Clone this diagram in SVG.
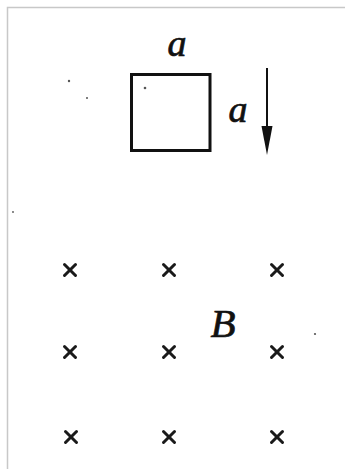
<svg xmlns="http://www.w3.org/2000/svg" width="345" height="469" viewBox="0 0 345 469">
<style>
.lbl{font-family:"Liberation Serif","DejaVu Serif",serif;font-style:italic;fill:#111;stroke:#111;stroke-width:0.7}
.x{stroke:#1a1a1a;stroke-width:3;stroke-linecap:round}
.dot{fill:#555}
</style>
<defs>
<g id="cross"><line class="x" x1="-5.5" y1="-5.5" x2="5.5" y2="5.5"/><line class="x" x1="-5.5" y1="5.5" x2="5.5" y2="-5.5"/></g>
</defs>
<rect width="345" height="469" fill="#fff"/>
<path d="M7.5,469 V7.5 H345" fill="none" stroke="#c8c8c8" stroke-width="1.5"/>
<g id="loop">
<rect x="131.5" y="74.5" width="78.5" height="76" fill="none" stroke="#111" stroke-width="3"/>
<text class="lbl" x="177" y="56" font-size="38" text-anchor="middle">a</text>
<text class="lbl" x="238" y="122" font-size="38" text-anchor="middle">a</text>
</g>
<g id="connectors">
<line x1="267" y1="68" x2="267" y2="130" stroke="#111" stroke-width="2"/>
<path d="M261.5,126 L272.5,126 L267,155 Z" fill="#111"/>
</g>
<g id="field">
<use href="#cross" x="70" y="270"/>
<use href="#cross" x="169" y="270"/>
<use href="#cross" x="277" y="270"/>
<use href="#cross" x="70" y="352"/>
<use href="#cross" x="169" y="352"/>
<use href="#cross" x="277" y="352"/>
<use href="#cross" x="71" y="437"/>
<use href="#cross" x="169" y="437"/>
<use href="#cross" x="277" y="437"/>
<text class="lbl" x="223" y="337" font-size="41" text-anchor="middle">B</text>
</g>
<g id="specks">
<circle class="dot" cx="69" cy="81" r="1.2"/>
<circle class="dot" cx="87" cy="98" r="1"/>
<circle class="dot" cx="145" cy="88" r="1.3"/>
<circle class="dot" cx="13" cy="212" r="0.9"/>
<circle class="dot" cx="315" cy="334" r="1.1"/>
</g>
</svg>
